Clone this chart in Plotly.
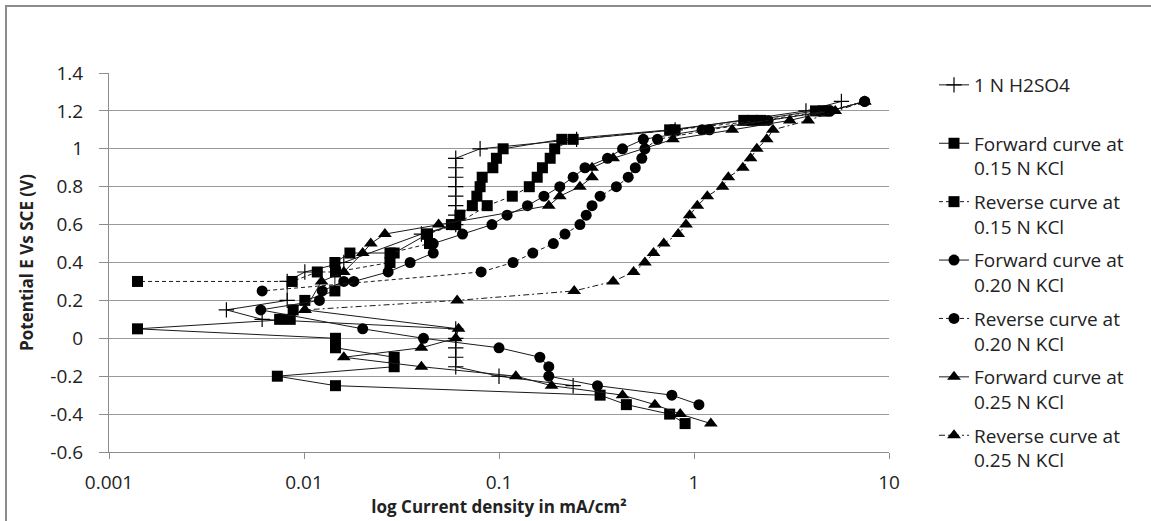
import plotly.graph_objects as go

# ---------------- data ----------------
h2so4_x = [0.24, 0.1, 0.06, 0.06, 0.06, 0.06, 0.06, 0.0061, 0.004, 0.0082, 0.0082, 0.0101, 0.016, 0.04,
           0.06, 0.06, 0.06, 0.06, 0.06, 0.06, 0.06, 0.06, 0.08, 0.25, 0.8, 3.75, 5.7]
h2so4_y = [-0.25, -0.2, -0.15, -0.1, -0.05, 0.0, 0.05, 0.1, 0.15, 0.2, 0.3, 0.35, 0.4, 0.55,
           0.6, 0.65, 0.7, 0.75, 0.8, 0.85, 0.9, 0.95, 1.0, 1.05, 1.1, 1.2, 1.25]

fwd15_x = [0.9, 0.75, 0.45, 0.33, 0.0145, 0.0073, 0.029, 0.029, 0.0145, 0.0145, 0.0014, 0.0075, 0.0085,
           0.0088, 0.0101, 0.0144, 0.0144, 0.0172, 0.029, 0.043, 0.057, 0.063, 0.073, 0.077, 0.08,
           0.082, 0.093, 0.097, 0.105, 0.21, 0.75, 1.8, 2.0, 4.2, 4.6]
fwd15_y = [-0.45, -0.4, -0.35, -0.3, -0.25, -0.2, -0.15, -0.1, -0.05, 0.0, 0.05, 0.1, 0.1,
           0.15, 0.2, 0.25, 0.4, 0.45, 0.45, 0.55, 0.6, 0.65, 0.7, 0.75, 0.8,
           0.85, 0.9, 0.95, 1.0, 1.05, 1.1, 1.15, 1.15, 1.2, 1.2]

rev15_x = [4.8, 2.2, 0.8, 0.24, 0.193, 0.183, 0.167, 0.157, 0.143, 0.117, 0.087, 0.06, 0.043, 0.044,
           0.0276, 0.0276, 0.0145, 0.0117, 0.0087, 0.0014]
rev15_y = [1.2, 1.15, 1.1, 1.05, 1.0, 0.95, 0.9, 0.85, 0.8, 0.75, 0.7, 0.6, 0.55, 0.5,
           0.45, 0.4, 0.35, 0.35, 0.3, 0.3]

fwd20_x = [1.06, 0.77, 0.32, 0.18, 0.18, 0.162, 0.1, 0.041, 0.02, 0.006, 0.012, 0.0124, 0.016, 0.018,
           0.027, 0.035, 0.046, 0.046, 0.065, 0.092, 0.11, 0.14, 0.17, 0.205, 0.24, 0.276, 0.36,
           0.43, 0.55, 1.1, 2.4, 5.0, 7.5]
fwd20_y = [-0.35, -0.3, -0.25, -0.2, -0.15, -0.1, -0.05, 0.0, 0.05, 0.15, 0.2, 0.25, 0.3, 0.3,
           0.35, 0.4, 0.45, 0.5, 0.55, 0.6, 0.65, 0.7, 0.75, 0.8, 0.85, 0.9, 0.95,
           1.0, 1.05, 1.1, 1.15, 1.2, 1.25]

rev20_x = [7.5, 4.9, 1.2, 0.65, 0.56, 0.54, 0.5, 0.46, 0.40, 0.33, 0.30, 0.28, 0.26, 0.218, 0.19,
           0.149, 0.118, 0.081, 0.0061]
rev20_y = [1.25, 1.2, 1.1, 1.05, 1.0, 0.95, 0.9, 0.85, 0.8, 0.75, 0.7, 0.65, 0.6, 0.55, 0.5,
           0.45, 0.4, 0.35, 0.25]

fwd25_x = [1.22, 0.85, 0.63, 0.43, 0.186, 0.122, 0.04, 0.016, 0.04, 0.06, 0.062, 0.0101, 0.0123, 0.016,
           0.02, 0.022, 0.026, 0.049, 0.18, 0.205, 0.26, 0.30, 0.30, 0.385, 0.78, 1.57, 3.1, 5.0, 7.5]
fwd25_y = [-0.45, -0.4, -0.35, -0.3, -0.25, -0.2, -0.15, -0.1, -0.05, 0.0, 0.05, 0.15, 0.3, 0.35,
           0.45, 0.5, 0.55, 0.6, 0.7, 0.75, 0.8, 0.85, 0.9, 0.95, 1.05, 1.1, 1.15, 1.2, 1.25]

rev25_x = [7.5, 5.3, 3.85, 2.54, 2.36, 2.1, 1.95, 1.78, 1.5, 1.4, 1.17, 1.04, 0.95, 0.91, 0.83, 0.7,
           0.62, 0.56, 0.49, 0.385, 0.243, 0.061, 0.0101]
rev25_y = [1.25, 1.2, 1.15, 1.1, 1.05, 1.0, 0.95, 0.9, 0.85, 0.8, 0.75, 0.7, 0.65, 0.6, 0.55, 0.5,
           0.45, 0.4, 0.35, 0.3, 0.25, 0.2, 0.15]

series_names = ["1 N H2SO4<br>\u00a0",
                "Forward curve at<br>0.15 N KCl", "Reverse curve at<br>0.15 N KCl",
                "Forward curve at<br>0.20 N KCl", "Reverse curve at<br>0.20 N KCl",
                "Forward curve at<br>0.25 N KCl", "Reverse curve at<br>0.25 N KCl"]

x_tick_vals = [0.001, 0.01, 0.1, 1, 10]
x_tick_text = ["0.001", "0.01", "0.1", "1", "10"]
y_tick_vals = [-0.6, -0.4, -0.2, 0, 0.2, 0.4, 0.6, 0.8, 1.0, 1.2, 1.4]
y_tick_text = ["-0.6", "-0.4", "-0.2", "0", "0.2", "0.4", "0.6", "0.8", "1", "1.2", "1.4"]

# ---------------- figure ----------------
FONT = "Open Sans"
fig = go.Figure()

styles = [
    (h2so4_x, h2so4_y, "cross-thin", 11, "solid"),
    (fwd15_x, fwd15_y, "square", 11, "solid"),
    (rev15_x, rev15_y, "square", 11, "4px,3px"),
    (fwd20_x, fwd20_y, "circle", 11, "solid"),
    (rev20_x, rev20_y, "circle", 11, "4px,3px"),
    (fwd25_x, fwd25_y, "triangle-up", 12, "solid"),
    (rev25_x, rev25_y, "triangle-up", 12, "6px,3px,2px,3px"),
]

for i, ((xs, ys, sym, sz, dash), name) in enumerate(zip(styles, series_names)):
    fig.add_trace(go.Scatter(
        x=xs, y=ys, name=name, mode="lines+markers",
        line=dict(color="#1a1a1a", width=1, dash=dash),
        marker=dict(symbol=sym, size=sz, color="black",
                    line=dict(color="black", width=1.2 if sym == "cross-thin" else 0)),
        legendgroup=f"g{i}",
    ))

W, H = 1151, 521
L, R, T, B = 109, 889, 73, 452     # wanted plot box in pixels
MT, MB = 60, 8                      # real margins (larger plot area gives the legend room)
area_h = H - MT - MB
bottom_px = H - MB


def py(p):
    """pixel row -> paper fraction"""
    return (bottom_px - p) / area_h


fig.update_layout(
    width=W, height=H,
    margin=dict(l=L, r=W - R, t=MT, b=MB, autoexpand=False),
    paper_bgcolor="white", plot_bgcolor="white",
    font=dict(family=FONT, color="#222", size=17),
    showlegend=True,
    legend=dict(
        x=(934 - L) / (R - L), xanchor="left",
        y=py(66), yanchor="top",
        font=dict(family=FONT, size=19, color="#222"),
        valign="top", tracegroupgap=6,
        bgcolor="rgba(0,0,0,0)", borderwidth=0,
    ),
    xaxis=dict(
        type="log", range=[-3, 1],
        tickvals=x_tick_vals, ticktext=x_tick_text,
        showgrid=False, zeroline=False,
        showline=True, linecolor="#8c8c8c", linewidth=1,
        ticks="outside", ticklen=6, tickcolor="#8c8c8c",
        tickfont=dict(family=FONT, size=19, color="#222"),
        ticklabelstandoff=7,
        title=dict(text="<b>log Current density in mA/cm²</b>",
                   font=dict(family=FONT, size=17, color="#222"), standoff=6),
    ),
    yaxis=dict(
        domain=[py(B), py(T)],
        range=[-0.6, 1.4],
        tickvals=y_tick_vals, ticktext=y_tick_text,
        showgrid=True, gridcolor="#9a9a9a", gridwidth=1,
        zeroline=False,
        showline=True, linecolor="#8c8c8c", linewidth=1,
        ticks="outside", ticklen=9, tickcolor="#8c8c8c",
        tickfont=dict(family=FONT, size=19, color="#222"),
        ticklabelstandoff=12,
        title=dict(text="<b>Potential E Vs SCE (V)</b>",
                   font=dict(family=FONT, size=17, color="#222"), standoff=12),
    ),
)

# outer chart-area border (only left and top fall inside the picture)
fig.add_shape(type="rect", xref="paper", yref="paper",
              x0=(6 - L) / (R - L), x1=(1160 - L) / (R - L),
              y0=py(530), y1=py(6),
              line=dict(color="#8c8c8c", width=2), fillcolor="rgba(0,0,0,0)", layer="below")

fig.write_html("out.html", config={"displayModeBar": False},
               post_script="document.body.style.margin='0px';")
